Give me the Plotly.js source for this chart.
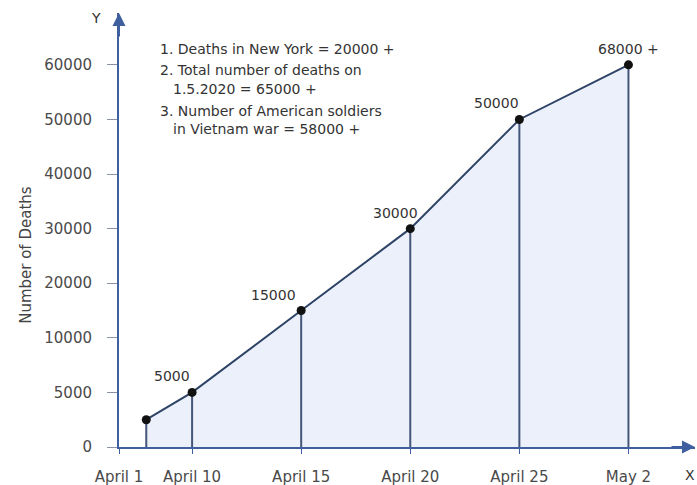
<!DOCTYPE html>
<html>
<head>
<meta charset="utf-8">
<script src="https://cdn.plot.ly/plotly-3.0.1.min.js"></script>
<style>html,body{margin:0;padding:0;background:#fff;}#chart{width:697px;height:485px;}</style>
</head>
<body>
<div id="chart"></div>
<script>
// ---- data ----
var xTickLabels = ['April 1', 'April 10', 'April 15', 'April 20', 'April 25', 'May 2'];
var xTickSlots  = [0, 0.67, 1.67, 2.67, 3.67, 4.67];          // non-uniform axis slots as drawn
var yTickValues = [0, 5000, 10000, 20000, 30000, 40000, 50000, 60000]; // equally spaced on the drawing
var pointSlots  = [0.25, 0.67, 1.67, 2.67, 3.67, 4.67];
var pointDeaths = [2500, 5000, 15000, 30000, 50000, 60000];   // plotted heights
var pointLabels = ['', '5000', '15000', '30000', '50000', '68000 +'];
var notes = [
  '1. Deaths in New York = 20000 +',
  '2. Total number of deaths on',
  '1.5.2020 = 65000 +',
  '3. Number of American soldiers',
  'in Vietnam war = 58000 +'
];

// map a deaths value onto the drawn (piecewise-equal) y scale
function toAxis(v) {
  for (var i = 0; i < yTickValues.length - 1; i++) {
    var a = yTickValues[i], b = yTickValues[i + 1];
    if (v <= b) return i + (v - a) / (b - a);
  }
  var n = yTickValues.length - 1;
  return n + (v - yTickValues[n]) / (yTickValues[n] - yTickValues[n - 1]);
}
var yPos = pointDeaths.map(toAxis);
var yTickPos = yTickValues.map(function (v, i) { return i; });

var axisColor = '#3f5f9f';
var lineColor = '#2e4366';
var textColor = '#4a4a4a';
var font = 'DejaVu Sans, Arial, sans-serif';

// drop lines built from the data
var dropX = [], dropY = [];
pointSlots.forEach(function (x, i) { dropX.push(x, x, null); dropY.push(0, yPos[i], null); });

var traces = [
  { x: pointSlots, y: yPos, type: 'scatter', mode: 'lines', fill: 'tozeroy',
    fillcolor: 'rgba(228,233,248,0.7)', line: { color: lineColor, width: 2 }, hoverinfo: 'skip' },
  { x: dropX, y: dropY, type: 'scatter', mode: 'lines',
    line: { color: '#44567a', width: 2 }, hoverinfo: 'skip' },
  { x: pointSlots, y: yPos, type: 'scatter', mode: 'markers',
    marker: { color: '#111', size: 9 }, hoverinfo: 'skip' }
];

var labelAnchor = ['right', 'right', 'right', 'right', 'right', 'center'];
var labelShift  = [0, 0, -3, 10, 2, 0];
var annotations = [];
pointLabels.forEach(function (t, i) {
  if (!t) return;
  annotations.push({ x: pointSlots[i], y: yPos[i], text: t, showarrow: false,
    xanchor: labelAnchor[i], yanchor: 'bottom', xshift: labelShift[i], yshift: 6,
    font: { family: font, size: 14, color: '#333' } });
});
var noteX = [0.358, 0.358, 0.48, 0.358, 0.48];
var noteY = [7.29, 6.9, 6.56, 6.15, 5.82];
notes.forEach(function (t, i) {
  annotations.push({ x: noteX[i], y: noteY[i], text: t, showarrow: false,
    xanchor: 'left', yanchor: 'middle', font: { family: font, size: 14, color: '#333' } });
});
// axis arrows and letters
annotations.push({ xref: 'paper', yref: 'paper', x: 0, y: 1, ax: 0, ay: 25, text: '',
  showarrow: true, arrowhead: 2, arrowsize: 1.3, arrowwidth: 2, arrowcolor: axisColor });
annotations.push({ xref: 'paper', yref: 'paper', x: 1, y: 0, ax: -25, ay: 0, text: '',
  showarrow: true, arrowhead: 2, arrowsize: 1.3, arrowwidth: 2, arrowcolor: axisColor });
annotations.push({ xref: 'paper', yref: 'paper', x: 0, y: 1, xshift: -30, yshift: 5, text: 'Y',
  showarrow: false, font: { family: font, size: 14, color: '#333' } });
annotations.push({ xref: 'paper', yref: 'paper', x: 1, y: 0, xshift: 2, yshift: -38, text: 'X',
  showarrow: false, font: { family: font, size: 14, color: '#333' } });
annotations.push({ xref: 'paper', x: 0, y: 3.52, xshift: -104, text: 'Number of Deaths',
  textangle: -90, showarrow: false, font: { family: font, size: 15, color: '#444' } });

var layout = {
  width: 697, height: 485,
  margin: { l: 119, r: 2, t: 13, b: 38 },
  paper_bgcolor: '#fff', plot_bgcolor: '#fff',
  showlegend: false,
  xaxis: { range: [0, 5.28], tickmode: 'array', tickvals: xTickSlots, ticktext: xTickLabels,
    showgrid: false, zeroline: false, showline: true, linecolor: axisColor, linewidth: 2,
    ticks: 'outside', ticklen: 5, tickcolor: axisColor, ticklabelstandoff: 10,
    tickfont: { family: font, size: 15, color: textColor }, fixedrange: true },
  yaxis: { range: [0, 7.95], tickmode: 'array', tickvals: yTickPos,
    ticktext: yTickValues.map(String),
    showgrid: false, zeroline: false, showline: true, linecolor: axisColor, linewidth: 2,
    ticks: 'outside', ticklen: 10, tickcolor: '#8a93a8', ticklabelstandoff: 12,
    tickfont: { family: font, size: 15, color: textColor }, fixedrange: true },
  annotations: annotations
};

Plotly.newPlot('chart', traces, layout, { displayModeBar: false, staticPlot: true });
</script>
</body>
</html>
